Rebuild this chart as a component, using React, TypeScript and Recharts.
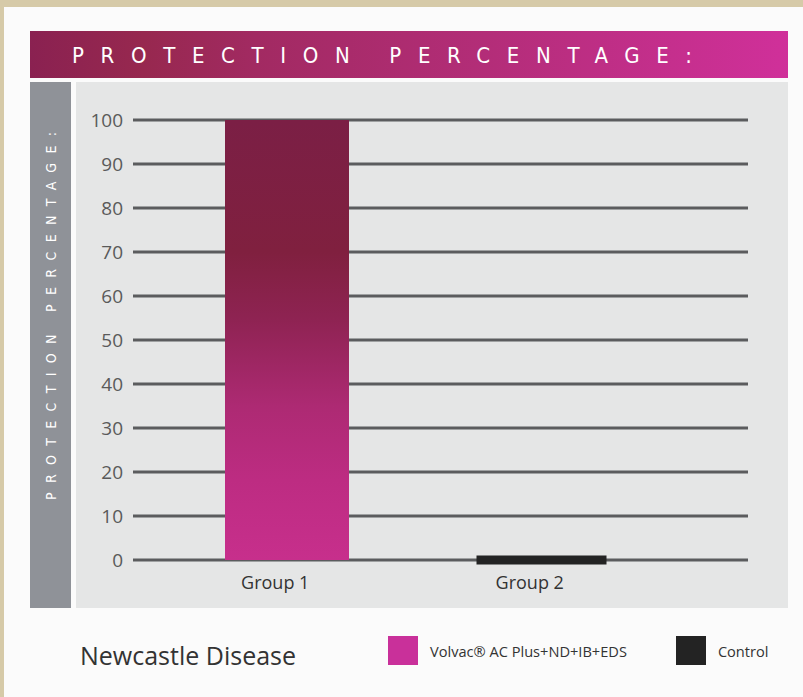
import { Bar, BarChart, CartesianGrid, XAxis, YAxis } from "recharts";

// chart values
const groups = ["Group 1", "Group 2"];
const volvacValues = [100, null];
const controlValues = [null, 0];
const yTicks = [0, 10, 20, 30, 40, 50, 60, 70, 80, 90, 100];

const seriesNames = {
  volvac: "Volvac® AC Plus+ND+IB+EDS",
  control: "Control",
};

const chartData = groups.map((name, i) => ({
  name,
  volvac: volvacValues[i],
  control: controlValues[i],
}));

const legendItems = [
  { label: seriesNames.volvac, color: "#c9309a" },
  { label: seriesNames.control, color: "#232323" },
];

const narrow = "'Liberation Sans Narrow', 'DejaVu Sans Condensed', 'Open Sans', sans-serif";
const body = "'Open Sans', 'Noto Sans', sans-serif";

/** Control is 0 but drawn as a thick black strip sitting on the baseline. */
function ControlShape(props: any) {
  const { x, y, width, height, payload } = props;
  if (payload == null || payload.control == null) return <g />;
  const h = Math.max(height || 0, 9);
  return <rect x={x - 3} y={y + (height || 0) - 4.5} width={width + 6} height={h} fill="#232323" />;
}

function GroupTick(props: any) {
  const { x, y, payload } = props;
  return (
    <text x={x - 12} y={y} dy={21} textAnchor="middle" fill="#333" fontSize={18} fontFamily={body}>
      {payload.value}
    </text>
  );
}

export default function App() {
  return (
    <div style={{ position: "fixed", left: 0, top: 0, width: 803, height: 697, background: "#d6caa8", overflow: "hidden" }}>
      <div style={{ position: "absolute", left: 4, top: 7, right: 0, bottom: 0, background: "#fbfbfb" }} />
      {/* title band */}
      <svg style={{ position: "absolute", left: 30, top: 31 }} width={758} height={47}>
        <defs>
          <linearGradient id="band" x1="0" y1="0" x2="1" y2="0">
            <stop offset="0%" stopColor="#8a2151" />
            <stop offset="15%" stopColor="#97284f" />
            <stop offset="30%" stopColor="#a22a62" />
            <stop offset="60%" stopColor="#b32d78" />
            <stop offset="100%" stopColor="#d0309a" />
          </linearGradient>
        </defs>
        <rect x={0} y={0} width={758} height={47} fill="url(#band)" />
        <text x={42} y={32} fill="#fff" fontSize={22} fontFamily={narrow} textLength={620} lengthAdjust="spacing">
          PROTECTION PERCENTAGE:
        </text>
      </svg>
      {/* side label column and plot panel */}
      <svg style={{ position: "absolute", left: 30, top: 82 }} width={41} height={526}>
        <rect x={0} y={0} width={41} height={526} fill="#8f9298" />
        <text
          transform="translate(26,418) rotate(-90)"
          fill="#fff"
          fontSize={14}
          fontFamily={narrow}
          textLength={368}
          lengthAdjust="spacing"
        >
          PROTECTION PERCENTAGE:
        </text>
      </svg>
      <div style={{ position: "absolute", left: 76, top: 82, width: 712, height: 526, background: "#e5e6e6" }} />
      <div style={{ position: "absolute", left: 80, top: 638, fontSize: 25, fontFamily: body, color: "#333" }}>
        Newcastle Disease
      </div>
      {/* legend */}
      <div style={{ position: "absolute", left: 388, top: 636, display: "flex", alignItems: "center", fontFamily: body, color: "#333" }}>
        {legendItems.map((item, i) => (
          <div key={i} style={{ display: "flex", alignItems: "center", marginRight: i === 0 ? 49 : 0 }}>
            <span style={{ width: 30, height: 29, background: item.color, display: "inline-block" }} />
            <span style={{ marginLeft: 12, fontSize: 14.6 }}>{item.label}</span>
          </div>
        ))}
      </div>
      <div style={{ position: "absolute", left: 0, top: 0 }}>
        <BarChart
          width={803}
          height={697}
          data={chartData}
          barSize={124}
          margin={{ top: 120, right: 55, bottom: 107, left: 0 }}
        >
          <defs>
            <linearGradient id="barFill" x1="0" y1="0" x2="0" y2="1">
              <stop offset="0%" stopColor="#7b1f45" />
              <stop offset="30%" stopColor="#80203f" />
              <stop offset="45%" stopColor="#8e2352" />
              <stop offset="65%" stopColor="#ad2a73" />
              <stop offset="82%" stopColor="#bd2c82" />
              <stop offset="100%" stopColor="#c72f8c" />
            </linearGradient>
          </defs>
          <CartesianGrid vertical={false} stroke="#5b5c5e" strokeWidth={3} />
          <XAxis
            dataKey="name"
            axisLine={false}
            tickLine={false}
            height={30}
            padding={{ left: 27, right: 79 }}
            tick={<GroupTick />}
          />
          <YAxis
            width={133}
            domain={[0, 100]}
            ticks={yTicks}
            axisLine={false}
            tickLine={false}
            tickMargin={4}
            tick={{ fill: "#5a5a5a", fontSize: 19, fontFamily: body }}
          />
          <Bar dataKey="volvac" name={seriesNames.volvac} stackId="a" fill="url(#barFill)" isAnimationActive={false} />
          <Bar
            dataKey="control"
            name={seriesNames.control}
            stackId="a"
            fill="#232323"
            shape={<ControlShape />}
            isAnimationActive={false}
          />
        </BarChart>
      </div>
    </div>
  );
}
